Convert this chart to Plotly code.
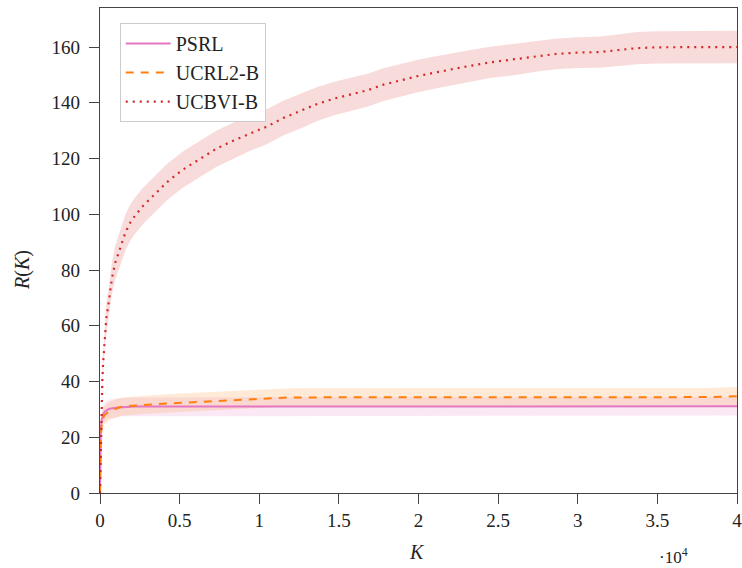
import plotly.graph_objects as go

# Episodes K
K = [0, 25, 50, 100, 150, 200, 300, 400, 500, 600, 750, 950, 1150, 1400, 1600, 1900,
     2200, 2700, 3300, 4200, 5200, 6300, 7300, 8400, 9400, 10500, 11500, 12600, 13600,
     14700, 15700, 16800, 17800, 18800, 19900, 21000, 22000, 23000, 24500, 26000, 27500,
     28600, 30000, 31400, 32500, 33700, 35000, 36500, 38000, 40000]

psrl_mean = [0, 18, 23, 26, 27.5, 28.3, 29.2, 29.7, 30, 30.2, 30.4, 30.6, 30.7, 30.8, 30.9, 30.95,
             31, 31, 31, 31, 31, 31, 31, 31, 31, 31, 31, 31, 31,
             31, 31, 31, 31, 31, 31, 31, 31, 31, 31, 31, 31,
             31, 31, 31, 31, 31, 31, 31, 31.05, 31.1]
psrl_std = [0, 1.5, 2.2, 2.8, 3.0, 3.2, 3.3, 3.3, 3.3, 3.3, 3.3, 3.3, 3.3, 3.3, 3.3, 3.3,
            3.3, 3.3, 3.3, 3.3, 3.3, 3.3, 3.3, 3.3, 3.3, 3.3, 3.3, 3.3, 3.3,
            3.3, 3.3, 3.3, 3.3, 3.3, 3.3, 3.3, 3.3, 3.3, 3.3, 3.3, 3.3,
            3.3, 3.3, 3.3, 3.3, 3.3, 3.3, 3.3, 3.3, 3.3]

ucrl_mean = [0, 14, 20, 24, 26, 27, 28, 28.6, 29, 29.4, 29.8, 30.3, 30.6, 31, 31.1, 31.3,
             31.4, 31.6, 31.8, 32.1, 32.4, 32.7, 33.1, 33.4, 33.7, 34, 34.2, 34.3, 34.3,
             34.3, 34.3, 34.3, 34.3, 34.3, 34.3, 34.3, 34.3, 34.3, 34.3, 34.3, 34.3,
             34.3, 34.3, 34.3, 34.3, 34.3, 34.3, 34.3, 34.4, 34.7]
ucrl_std = [0, 1.5, 2.2, 2.8, 3.0, 3.2, 3.3, 3.3, 3.3, 3.3, 3.3, 3.3, 3.3, 3.3, 3.3, 3.3,
            3.3, 3.3, 3.3, 3.3, 3.3, 3.3, 3.3, 3.3, 3.3, 3.3, 3.3, 3.3, 3.3,
            3.3, 3.3, 3.3, 3.3, 3.3, 3.3, 3.3, 3.3, 3.3, 3.3, 3.3, 3.3,
            3.3, 3.3, 3.3, 3.3, 3.3, 3.3, 3.3, 3.3, 3.3]

ucbvi_mean = [0, 8, 15, 32, 41, 47, 57, 63, 66.5, 71, 77, 82.5, 86, 90, 93.5, 97,
              99.5, 103, 106.5, 111.5, 116, 120, 123.5, 126.5, 129, 131.5, 134.5, 137, 139.5,
              141.5, 143, 144.5, 146.5, 148, 149.5, 150.8, 152, 153, 154.5, 155.5, 156.7,
              157.5, 158, 158.2, 158.8, 159.6, 159.9, 160, 160, 160]
ucbvi_std = [0, 1, 1.5, 2.5, 3, 3.5, 4, 4.5, 5, 5.3, 5.6, 6, 6.2, 6.4, 6.5, 6.5,
             6.5, 6.5, 6.5, 6.5, 6.5, 6.5, 6.5, 6.4, 6.3, 6.3, 6.2, 6.2, 6.1,
             6.0, 6.0, 5.9, 5.9, 5.8, 5.8, 5.8, 5.7, 5.7, 5.6, 5.6, 5.5,
             5.5, 5.5, 5.6, 5.7, 5.8, 5.8, 5.8, 5.8, 5.8]

x_tickvals = [0, 5000, 10000, 15000, 20000, 25000, 30000, 35000, 40000]
x_ticktext = ["0", "0.5", "1", "1.5", "2", "2.5", "3", "3.5", "4"]
y_tickvals = [0, 20, 40, 60, 80, 100, 120, 140, 160]

series = [
    ("PSRL", psrl_mean, psrl_std, "#e377c2", "solid", 2),
    ("UCRL2-B", ucrl_mean, ucrl_std, "#ff7f0e", "8px,7px", 2),
    ("UCBVI-B", ucbvi_mean, ucbvi_std, "#d62728", "2px,5px", 2.2),
]

def rgba(hexc, a):
    h = hexc.lstrip("#")
    r, g, b = int(h[0:2], 16), int(h[2:4], 16), int(h[4:6], 16)
    return f"rgba({r},{g},{b},{a})"

fig = go.Figure()
FONT = "Liberation Serif"
FS = 19

for name, m, s, c, dash, w in series:
    upper = [mi + si for mi, si in zip(m, s)]
    lower = [mi - si for mi, si in zip(m, s)]
    fig.add_trace(go.Scatter(
        x=K + K[::-1], y=upper + lower[::-1], fill="toself",
        fillcolor=rgba(c, 0.16), line=dict(width=0), mode="lines",
        hoverinfo="skip", showlegend=False))

for name, m, s, c, dash, w in series:
    fig.add_trace(go.Scatter(x=K, y=m, mode="lines", name=name,
                             line=dict(color=c, dash=dash, width=w)))

axis_common = dict(showline=True, mirror=True, linecolor="#444", linewidth=1.3,
                   ticks="outside", ticklen=10, tickcolor="#444", tickwidth=1,
                   showgrid=False, zeroline=False, automargin=False,
                   ticklabeloverflow="allow",
                   tickfont=dict(family=FONT, size=FS, color="#222"))

fig.update_layout(
    width=742, height=568,
    margin=dict(l=100, r=5, t=8, b=75),
    plot_bgcolor="white", paper_bgcolor="white",
    font=dict(family=FONT, size=FS, color="#222"),
    xaxis=dict(range=[0, 40000], tickvals=x_tickvals, ticktext=x_ticktext, **axis_common),
    yaxis=dict(range=[0, 174], tickvals=y_tickvals, ticklabelstandoff=5, **axis_common),
    legend=dict(x=0.031, y=0.969, xanchor="left", yanchor="top",
                bgcolor="white", bordercolor="#cccccc", borderwidth=1,
                font=dict(family=FONT, size=20, color="#222"),
                tracegroupgap=0, itemwidth=45),
    showlegend=True,
)

# axis titles and exponent label
fig.add_annotation(text="<i>K</i>", xref="paper", yref="paper",
                   x=(417 - 100) / 637, y=(493 - 552) / 485, xanchor="center", yanchor="middle",
                   showarrow=False, font=dict(family=FONT, size=20, color="#222"))
fig.add_annotation(text="<i>R</i>(<i>K</i>)", xref="paper", yref="paper",
                   x=(22 - 100) / 637, y=(493 - 270) / 485, xanchor="center", yanchor="middle",
                   textangle=-90, showarrow=False, font=dict(family=FONT, size=20, color="#222"))
fig.add_annotation(text="·10<sup>4</sup>", xref="paper", yref="paper",
                   x=(673 - 100) / 637, y=(493 - 556) / 485, xanchor="center", yanchor="middle",
                   showarrow=False, font=dict(family=FONT, size=17, color="#222"))

fig.write_html("out.html", post_script="document.body.style.margin='0';",
               config={"displayModeBar": False})
